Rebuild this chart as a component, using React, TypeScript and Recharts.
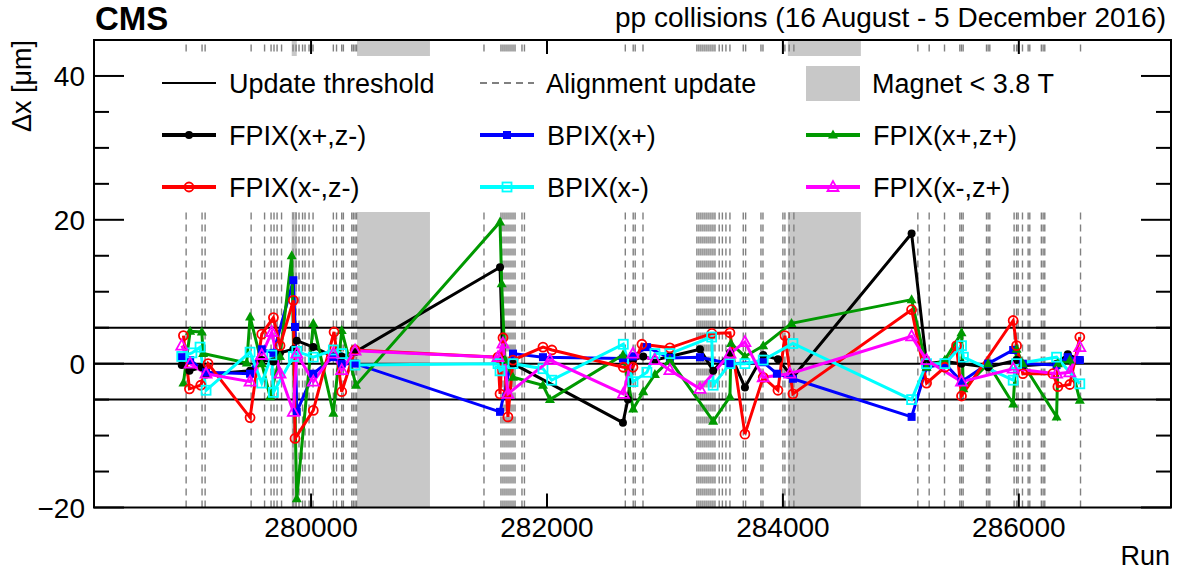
import { LineChart, Line, XAxis, YAxis, ReferenceLine, ReferenceArea } from 'recharts'

// runs and Δx [μm] per module group
const FPIX_XP_ZM_RUNS = [278904, 278969, 279074, 279110, 279483, 279582, 279681, 279737, 279850, 279879, 280019, 280189, 280260, 280373, 281602, 281627, 281712, 282644, 282686, 282729, 282816, 282915, 283042, 283297, 283409, 283551, 283678, 283833, 283958, 284085, 285091, 285218, 285373, 285514, 285740, 285981, 286034, 286320, 286415, 286517]
const FPIX_XP_ZM_DX = [-0.2, -1.0, -0.5, -1.5, -1.0, 0.5, 0.3, 1.5, 2.0, 3.2, 2.3, 1.0, 1.0, 1.6, 13.4, 0.5, 0.0, -8.2, -5.0, 0.5, 1.0, 0.5, 1.0, 2.0, -1.0, 1.5, -3.3, 1.2, 0.6, -1.9, 18.1, 0.0, 0.3, 0.0, -0.5, 0.5, -0.3, 0.0, 1.3, 0.5]

const BPIX_XP_RUNS = [278904, 278975, 279110, 279483, 279582, 279681, 279850, 279864, 279879, 280019, 280189, 280260, 280373, 281602, 281712, 281966, 282644, 282729, 282847, 283042, 283297, 283551, 283833, 283949, 284085, 285091, 285218, 285373, 285514, 285740, 285952, 286034, 286320, 286415, 286517]
const BPIX_XP_DX = [0.9, 0.5, -1.2, -1.4, 2.0, 1.5, 11.6, 5.1, -6.7, -1.4, 0.9, 0.0, 0.0, -6.7, 1.4, 0.9, 0.7, 1.0, 2.3, 0.8, 0.9, 0.0, 0.2, -1.4, -2.1, -7.4, -0.5, 0.0, -2.5, 0.0, 1.9, 0.0, -0.2, 0.9, 0.5]

const FPIX_XP_ZP_RUNS = [278918, 278975, 279074, 279085, 279455, 279483, 279582, 279653, 279737, 279836, 279879, 280019, 280189, 280260, 280381, 281602, 281616, 281644, 281712, 281966, 282025, 282644, 282731, 282816, 282915, 283042, 283409, 283551, 283560, 283678, 283833, 284073, 285091, 285218, 285373, 285514, 285530, 285740, 285952, 285981, 286034, 286320, 286331, 286432, 286517]
const FPIX_XP_ZP_DX = [-2.7, 4.5, 4.4, 1.4, 0.1, 6.5, 0.0, -4.6, 1.0, 15.0, -18.8, 5.6, -6.9, 4.6, -3.0, 19.7, 11.1, 0.5, -1.9, -3.0, -5.0, 1.2, -6.3, -3.9, -1.5, 0.5, -8.0, -4.6, 2.8, 1.0, 2.5, 5.6, 8.9, -0.5, 0.5, 4.3, -3.5, 0.0, -5.6, 2.0, 0.0, -7.4, 0.0, 0.5, -5.1]

const FPIX_XM_ZM_RUNS = [278918, 278969, 279065, 279127, 279483, 279582, 279681, 279737, 279850, 279864, 280019, 280195, 280260, 280373, 281585, 281602, 281627, 281669, 281712, 281966, 282042, 282647, 282729, 282805, 283042, 283398, 283551, 283678, 283833, 283958, 284017, 284085, 285091, 285218, 285373, 285472, 285514, 285952, 285981, 286034, 286288, 286331, 286432, 286517]
const FPIX_XM_ZM_DX = [3.9, -3.5, -3.0, 0.0, -7.5, 4.1, 6.4, 2.5, 8.8, -10.4, -6.5, 4.4, -3.9, 1.9, 0.9, -4.2, 3.6, -7.4, 0.5, 2.3, 1.9, -0.5, -0.5, 2.7, 2.2, 4.2, 4.3, -9.8, -1.9, -3.7, 3.9, -4.2, 7.5, -2.7, -0.5, 2.5, -4.5, 6.0, 2.5, -1.4, -1.4, -3.2, -2.9, 3.7]

const BPIX_XM_RUNS = [278904, 278990, 279059, 279110, 279483, 279582, 279667, 279681, 279850, 279879, 280019, 280189, 280260, 280373, 281585, 281602, 281712, 281966, 282040, 282647, 282729, 282847, 282915, 283042, 283396, 283409, 283551, 283678, 283833, 284085, 285091, 285218, 285373, 285514, 285530, 285952, 285981, 286320, 286517]
const BPIX_XM_DX = [1.0, 1.5, 2.3, -3.7, 1.6, -2.7, 1.2, -4.0, 1.0, 1.7, 0.9, 1.9, 1.4, -0.2, 0.0, -1.0, 0.0, -0.7, -2.3, 2.7, -2.5, -1.2, 1.4, 1.4, 3.7, -3.0, 0.0, 0.0, 0.5, 2.8, -5.0, 0.0, 0.0, 2.5, 0.9, -2.3, 0.0, 0.9, -2.8]

const FPIX_XM_ZP_RUNS = [278904, 278975, 279110, 279483, 279582, 279667, 279737, 279850, 279879, 280019, 280189, 280260, 280373, 281585, 281627, 281669, 282025, 282647, 282729, 282915, 283042, 283297, 283551, 283678, 283833, 284059, 285091, 285218, 285514, 285952, 286320, 286432, 286517]
const FPIX_XM_ZP_DX = [2.5, 0.0, -1.4, -2.5, 1.2, 4.4, -1.4, -6.7, 1.4, -2.5, 1.4, -0.9, 1.8, 0.9, 2.8, -4.2, 0.5, -4.2, 1.4, 0.5, -0.9, -3.5, 1.4, 3.0, -1.9, -1.4, 3.8, 0.5, -2.5, -0.7, -1.4, -1.2, 2.3]

const ALIGNMENT_RUNS = [
  278941, 279076, 279102, 279492, 279606, 279661, 279686, 279712, 279750, 279847, 279873, 279898,
  279928, 279949, 279983, 280017, 280189, 280216, 280260, 280274, 280345, 280358, 280373, 280386,
  281466, 281610, 281627, 281644, 281661, 281678, 281695, 281712, 281729, 281788, 281809,
  282664, 282731, 282748, 282814,
  283271, 283288, 283305, 283322, 283339, 283356, 283373, 283390, 283407, 283424, 283460, 283487,
  283517, 283551, 283664, 283684, 283814, 283831,
  284000, 284017, 284053, 284093,
  285144, 285240, 285370, 285500, 285514, 285528, 285726, 285740, 285754, 285960, 285981, 285994,
  286031, 286079, 286093, 286191, 286206, 286220, 286523,
]

const MAGNET_OFF_START = [279836, 280390, 284042]
const MAGNET_OFF_END = [279879, 281008, 284661]

const THRESHOLDS = [5, 0, -5]
const X_TICKS = [280000, 282000, 284000, 286000]
const Y_TICKS = [-20, -15, -10, -5, 0, 5, 10, 15, 20, 25, 30, 35, 40]

const W = 1181
const H = 578
const PLOT_LEFT = 94
const PLOT_RIGHT = 1171
const PLOT_TOP = 40
const PLOT_BOTTOM = 507.5
const FONT = '"Liberation Sans", Arial, Helvetica, sans-serif'

type Shape = 'circle' | 'ocircle' | 'square' | 'osquare' | 'tri' | 'otri'

const SERIES: { name: string; runs: number[]; dx: number[]; color: string; shape: Shape }[] = [
  { name: 'FPIX(x+,z-)', runs: FPIX_XP_ZM_RUNS, dx: FPIX_XP_ZM_DX, color: '#000000', shape: 'circle' },
  { name: 'BPIX(x+)', runs: BPIX_XP_RUNS, dx: BPIX_XP_DX, color: '#0000ff', shape: 'square' },
  { name: 'FPIX(x+,z+)', runs: FPIX_XP_ZP_RUNS, dx: FPIX_XP_ZP_DX, color: '#009900', shape: 'tri' },
  { name: 'FPIX(x-,z-)', runs: FPIX_XM_ZM_RUNS, dx: FPIX_XM_ZM_DX, color: '#ff0000', shape: 'ocircle' },
  { name: 'BPIX(x-)', runs: BPIX_XM_RUNS, dx: BPIX_XM_DX, color: '#00ffff', shape: 'osquare' },
  { name: 'FPIX(x-,z+)', runs: FPIX_XM_ZP_RUNS, dx: FPIX_XM_ZP_DX, color: '#ff00ff', shape: 'otri' },
]

function Marker({ cx, cy, shape, color }: { cx: number; cy: number; shape: Shape; color: string }) {
  if (cx == null || cy == null || isNaN(cx) || isNaN(cy)) return null
  const open = { fill: 'none', stroke: color, strokeWidth: 1.8 }
  switch (shape) {
    case 'circle':
      return <circle cx={cx} cy={cy} r={4} fill={color} />
    case 'ocircle':
      return <circle cx={cx} cy={cy} r={4.5} {...open} />
    case 'square':
      return <rect x={cx - 4} y={cy - 4} width={8} height={8} fill={color} />
    case 'osquare':
      return <rect x={cx - 4.5} y={cy - 4.5} width={9} height={9} {...open} />
    case 'tri':
      return <polygon points={`${cx},${cy - 5.5} ${cx - 5},${cy + 3.5} ${cx + 5},${cy + 3.5}`} fill={color} />
    default:
      return <polygon points={`${cx},${cy - 6} ${cx - 5.5},${cy + 4} ${cx + 5.5},${cy + 4}`} {...open} />
  }
}

function XTick({ x, payload }: any) {
  return (
    <g>
      <line x1={x} x2={x} y1={PLOT_BOTTOM} y2={PLOT_BOTTOM - 14} stroke="#000" strokeWidth={2} />
      <line x1={x} x2={x} y1={PLOT_TOP} y2={PLOT_TOP + 14} stroke="#000" strokeWidth={2} />
      <text x={x} y={537} textAnchor="middle" fontSize={28} fontFamily={FONT} fill="#000">
        {payload.value}
      </text>
    </g>
  )
}

function YTick({ y, payload }: any) {
  const major = payload.value % 20 === 0
  const len = major ? 30 : 15
  return (
    <g>
      <line x1={PLOT_LEFT} x2={PLOT_LEFT + len} y1={y} y2={y} stroke="#000" strokeWidth={2} />
      <line x1={PLOT_RIGHT - len} x2={PLOT_RIGHT} y1={y} y2={y} stroke="#000" strokeWidth={2} />
      {major && (
        <text x={85} y={y + 10} textAnchor="end" fontSize={28} fontFamily={FONT} fill="#000">
          {payload.value < 0 ? `\u2212${-payload.value}` : payload.value}
        </text>
      )}
    </g>
  )
}

function LegendEntry({ x, y, label, s }: { x: number; y: number; label: string; s: (typeof SERIES)[number] }) {
  return (
    <g>
      <line x1={x} x2={x + 54} y1={y} y2={y} stroke={s.color} strokeWidth={4} />
      <Marker cx={x + 27} cy={y} shape={s.shape} color={s.color} />
      <text x={x + 67} y={y + 10} fontSize={27} fontFamily={FONT} fill="#000">
        {label}
      </text>
    </g>
  )
}

export default function App() {
  const cols = [162, 480, 806]
  const rows = [83, 135, 187]

  return (
    <div style={{ position: 'absolute', left: 0, top: 0, width: W, height: H, background: '#fff' }}>
      <LineChart width={W} height={H} margin={{ top: PLOT_TOP, right: W - PLOT_RIGHT, bottom: 10.5, left: 0 }}>
        <XAxis
          dataKey="x"
          type="number"
          domain={[278160, 287290]}
          ticks={X_TICKS}
          interval={0}
          height={60}
          axisLine={false}
          tickLine={false}
          tick={<XTick />}
          allowDataOverflow
        />
        <YAxis
          type="number"
          domain={[-20, 45]}
          ticks={Y_TICKS}
          interval={0}
          width={PLOT_LEFT}
          axisLine={false}
          tickLine={false}
          tick={<YTick />}
          allowDataOverflow
        />
        {MAGNET_OFF_START.map((x1, i) => (
          <ReferenceArea key={`m${i}`} x1={x1} x2={MAGNET_OFF_END[i]} fill="#c8c8c8" fillOpacity={1} stroke="none" />
        ))}
        {ALIGNMENT_RUNS.map((r) => (
          <ReferenceLine key={`a${r}`} x={r} stroke="#808080" strokeWidth={1.4} strokeDasharray="7 5" />
        ))}
        {THRESHOLDS.map((t) => (
          <ReferenceLine key={`t${t}`} y={t} stroke="#000" strokeWidth={2} />
        ))}
        {SERIES.map((s) => (
          <Line
            key={s.name}
            name={s.name}
            data={s.runs.map((r, i) => ({ x: r, y: s.dx[i] }))}
            dataKey="y"
            type="linear"
            stroke={s.color}
            strokeWidth={3}
            isAnimationActive={false}
            activeDot={false}
            dot={(p: any) => <Marker key={`${s.name}-${p.index}`} cx={p.cx} cy={p.cy} shape={s.shape} color={s.color} />}
          />
        ))}
      </LineChart>
      <svg width={W} height={H} style={{ position: 'absolute', left: 0, top: 0, pointerEvents: 'none' }}>
        <rect x={130} y={56} width={1005} height={156} fill="#fff" />
        <rect x={PLOT_LEFT} y={PLOT_TOP} width={PLOT_RIGHT - PLOT_LEFT} height={PLOT_BOTTOM - PLOT_TOP} fill="none" stroke="#000" strokeWidth={2} />

        <line x1={cols[0]} x2={cols[0] + 54} y1={rows[0]} y2={rows[0]} stroke="#000" strokeWidth={2} />
        <text x={cols[0] + 67} y={rows[0] + 10} fontSize={27} fontFamily={FONT}>Update threshold</text>
        <line x1={cols[1]} x2={cols[1] + 54} y1={rows[0]} y2={rows[0]} stroke="#808080" strokeWidth={2} strokeDasharray="7 5" />
        <text x={cols[1] + 66} y={rows[0] + 10} fontSize={27} fontFamily={FONT}>Alignment update</text>
        <rect x={cols[2]} y={66} width={54} height={35} fill="#c8c8c8" />
        <text x={cols[2] + 66} y={rows[0] + 10} fontSize={27} fontFamily={FONT}>Magnet {'<'} 3.8 T</text>

        {SERIES.map((s, i) => (
          <LegendEntry key={s.name} x={cols[i % 3]} y={rows[1 + Math.floor(i / 3)]} label={s.name} s={s} />
        ))}

        <text x={95} y={30} fontSize={33} fontWeight="bold" fontFamily={FONT}>CMS</text>
        <text x={1166} y={27} fontSize={28} textAnchor="end" fontFamily={FONT}>pp collisions (16 August - 5 December 2016)</text>
        <text x={1170} y={565} fontSize={27} textAnchor="end" fontFamily={FONT}>Run</text>
        <text transform="translate(31,40) rotate(-90)" fontSize={27} textAnchor="end" fontFamily={FONT}>Δx [μm]</text>
      </svg>
    </div>
  )
}
